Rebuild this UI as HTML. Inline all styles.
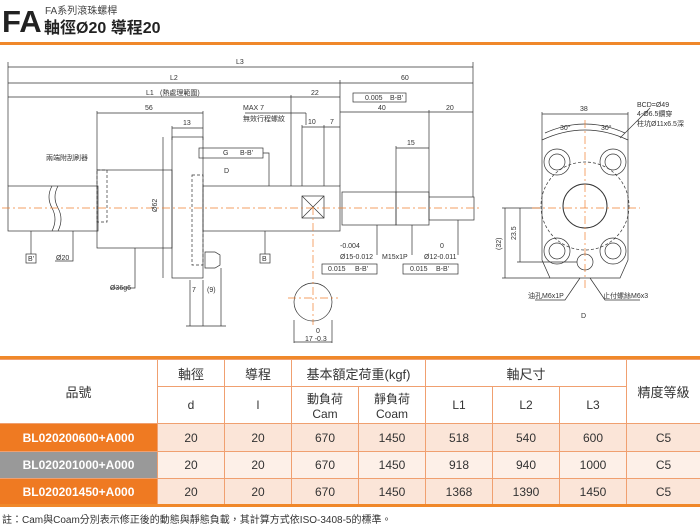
<!DOCTYPE html>
<html><head><meta charset="utf-8"><style>
body{margin:0;width:700px;height:527px;background:#fff;overflow:hidden;font-family:"Liberation Sans","Noto Sans CJK TC",sans-serif;}
svg{position:absolute;left:0;top:0}
table{position:absolute;left:0;top:356px;border-collapse:collapse;width:700px;font-size:12px;color:#333;}
td{border:1px solid #f0a070;text-align:center;padding:0;}
</style></head><body>
<svg width="700" height="357" viewBox="0 0 700 357" font-family="Liberation Sans, Noto Sans CJK TC, sans-serif">
<text x="2" y="32" font-size="31" font-weight="bold" fill="#222">FA</text>
<text x="45" y="14" font-size="10" fill="#444">FA系列滾珠螺桿</text>
<text x="44" y="33" font-size="16" font-weight="bold" fill="#222">軸徑Ø20 導程20</text>
<rect x="0" y="42" width="700" height="3" fill="#f0882a"/>
<g stroke="#333" stroke-width="0.7" fill="none">
<line x1="8" y1="67" x2="473" y2="67"/><line x1="8" y1="83" x2="473" y2="83"/><line x1="8" y1="97" x2="340" y2="97"/>
<line x1="8" y1="62" x2="8" y2="186"/><line x1="473" y1="62" x2="473" y2="197"/><line x1="340" y1="80" x2="340" y2="186"/><line x1="291" y1="95" x2="291" y2="186"/>
<line x1="97" y1="113" x2="203" y2="113"/><line x1="97" y1="111" x2="97" y2="170"/><line x1="203" y1="111" x2="203" y2="140"/>
<line x1="172" y1="128" x2="203" y2="128"/><line x1="172" y1="126" x2="172" y2="140"/>
<line x1="340" y1="112" x2="473" y2="112"/><line x1="429" y1="110" x2="429" y2="197"/>
<line x1="396" y1="148" x2="429" y2="148"/><line x1="396" y1="146" x2="396" y2="192"/>
<line x1="302" y1="127" x2="340" y2="127"/><line x1="302" y1="125" x2="302" y2="186"/><line x1="324" y1="125" x2="324" y2="186"/>
<line x1="245" y1="113" x2="306" y2="113"/><line x1="306" y1="113" x2="306" y2="125"/>
<rect x="8" y="186" width="90" height="45"/>
<path d="M52 186 q-6 11 0 22 q6 11 0 23 M58 186 q-6 11 0 22 q6 11 0 23"/>
<rect x="97" y="170" width="75" height="78"/>
<rect x="97" y="170" width="10" height="52" stroke-dasharray="3,2"/>
<rect x="172" y="137" width="31" height="141"/>
<rect x="192" y="175" width="11" height="90" stroke-dasharray="3,2"/>
<rect x="203" y="186" width="137" height="45"/>
<rect x="302" y="196" width="22" height="22"/><path d="M302 196 L324 218 M324 196 L302 218"/>
<rect x="342" y="192" width="54" height="33"/><rect x="396" y="192" width="33" height="33"/><rect x="429" y="197" width="45" height="23"/>
<path d="M205 252 h10 l5 3 v10 l-5 3 h-10z"/>
<line x1="163" y1="137" x2="163" y2="278"/>
<line x1="31" y1="231" x2="31" y2="254"/><rect x="26" y="254" width="10" height="9"/>
<line x1="265" y1="231" x2="265" y2="254"/><rect x="260" y="254" width="10" height="9"/>
<path d="M73 231 v30 h-18 M135 248 v40 h-25 M377 225 v30 M412 225 v30 M458 220 v35"/>
<rect x="322" y="264" width="55" height="10"/><rect x="403" y="264" width="55" height="10"/>
<rect x="199" y="148" width="64" height="10"/><path d="M263 153 h6 v33"/>
<rect x="353" y="93" width="53" height="9"/>
<circle cx="313" cy="302" r="19"/><line x1="294" y1="320" x2="294" y2="343"/><line x1="332" y1="320" x2="332" y2="343"/><line x1="294" y1="342" x2="332" y2="342"/>
<path d="M190 280 v46 M203 280 v46 M221 268 v58 M186 326 h40"/>
<path d="M542 140 Q585 120 628 140 V260 L620 278 H550 L542 260 Z"/>
<circle cx="585" cy="206" r="22" stroke-width="1"/>
<circle cx="585" cy="206" r="44" stroke-dasharray="3,2"/>
<circle cx="557" cy="162" r="13"/><circle cx="557" cy="162" r="8"/>
<circle cx="613" cy="162" r="13"/><circle cx="613" cy="162" r="8"/>
<circle cx="557" cy="251" r="13"/><circle cx="557" cy="251" r="8"/>
<circle cx="613" cy="251" r="13"/><circle cx="613" cy="251" r="8"/>
<circle cx="585" cy="262" r="8"/>
<line x1="542" y1="114" x2="628" y2="114"/><line x1="542" y1="112" x2="542" y2="140"/><line x1="628" y1="112" x2="628" y2="140"/>
<path d="M545 133 Q585 115 625 133"/>
<path d="M505 208 V278 M520 208 V262 M502 208 H540 M517 262 H577 M502 278 H550"/>
<path d="M580 278 l-15 22 h-30 M590 278 l15 22 h35 M620 138 l30 -30"/>
</g>
<g stroke="#f08030" stroke-width="0.7" stroke-dasharray="8,3,2,3">
<line x1="2" y1="208" x2="482" y2="208"/><line x1="313" y1="207" x2="313" y2="325"/><line x1="288" y1="298" x2="338" y2="298"/>
<line x1="532" y1="208" x2="640" y2="208"/><line x1="585" y1="120" x2="585" y2="290"/>
</g>
<g font-size="7" fill="#333">
<text x="236" y="64">L3</text><text x="170" y="80">L2</text><text x="401" y="80">60</text>
<text x="146" y="95">L1</text><text x="160" y="95">(熱處理範圍)</text><text x="311" y="95">22</text>
<text x="145" y="110">56</text><text x="183" y="125">13</text><text x="243" y="110">MAX 7</text><text x="243" y="121">無效行程螺紋</text>
<text x="308" y="124">10</text><text x="330" y="124">7</text><text x="378" y="110">40</text><text x="446" y="110">20</text><text x="407" y="145">15</text>
<text x="365" y="100">0.005</text><text x="390" y="100">B-B'</text>
<text x="46" y="160">兩端附刮刷器</text><text x="223" y="155">G</text><text x="240" y="155">B-B'</text><text x="224" y="173">D</text>
<text x="28" y="261">B'</text><text x="262" y="261">B</text><text x="56" y="260">Ø20</text><text x="110" y="290">Ø36g6</text>
<text x="340" y="248">-0.004</text><text x="340" y="259">Ø15-0.012</text><text x="382" y="259">M15x1P</text><text x="440" y="248">0</text><text x="424" y="259">Ø12-0.011</text>
<text x="328" y="271">0.015</text><text x="355" y="271">B-B'</text><text x="410" y="271">0.015</text><text x="436" y="271">B-B'</text>
<text x="192" y="292">7</text><text x="207" y="292">(9)</text><text x="316" y="333">0</text><text x="305" y="341">17 -0.3</text>
<text x="580" y="111">38</text><text x="560" y="130">30°</text><text x="601" y="130">30°</text>
<text x="637" y="107">BCD=Ø49</text><text x="637" y="116">4-Ø6.5鑽穿</text><text x="637" y="126">柱坑Ø11x6.5深</text>
<text x="528" y="298">油孔M6x1P</text><text x="603" y="298">止付螺絲M6x3</text><text x="581" y="318">D</text>
<text x="0" y="0" transform="translate(157,212) rotate(-90)">Ø62</text>
<text x="0" y="0" transform="translate(516,240) rotate(-90)">23.5</text>
<text x="0" y="0" transform="translate(501,250) rotate(-90)">(32)</text>
</g>
</svg>
<table>
<tr style="height:1px"><td colspan="9" style="border:none;border-top:3px solid #f0882a"></td></tr>
<tr style="height:27px;font-size:13px"><td rowspan="2" style="width:157px;border-left:none">品號</td><td style="width:66px">軸徑</td><td style="width:66px">導程</td><td colspan="2">基本額定荷重(kgf)</td><td colspan="3">軸尺寸</td><td rowspan="2" style="border-right:none">精度等級</td></tr>
<tr style="height:37px;font-size:12px"><td>d</td><td>l</td><td style="width:66px">動負荷<br>Cam</td><td style="width:66px">靜負荷<br>Coam</td><td style="width:66px">L1</td><td style="width:66px">L2</td><td style="width:66px">L3</td></tr>
<tr style="height:28px;background:#fbe5d8"><td style="background:#ef7a22;color:#fff;font-weight:bold;border-left:none">BL020200600+A000</td><td>20</td><td>20</td><td>670</td><td>1450</td><td>518</td><td>540</td><td>600</td><td style="border-right:none">C5</td></tr>
<tr style="height:27px;background:#fdf0e8"><td style="background:#999;color:#fff;font-weight:bold;border-left:none">BL020201000+A000</td><td>20</td><td>20</td><td>670</td><td>1450</td><td>918</td><td>940</td><td>1000</td><td style="border-right:none">C5</td></tr>
<tr style="height:27px;background:#fbe5d8"><td style="background:#ef7a22;color:#fff;font-weight:bold;border-left:none">BL020201450+A000</td><td>20</td><td>20</td><td>670</td><td>1450</td><td>1368</td><td>1390</td><td>1450</td><td style="border-right:none">C5</td></tr>
<tr style="height:2px"><td colspan="9" style="border:none;border-top:3px solid #f0882a"></td></tr>
</table>
<div style="position:absolute;left:2px;top:511px;font-size:10px;color:#333">註：Cam與Coam分別表示修正後的動態與靜態負載，其計算方式依ISO-3408-5的標準。</div>
</body></html>
